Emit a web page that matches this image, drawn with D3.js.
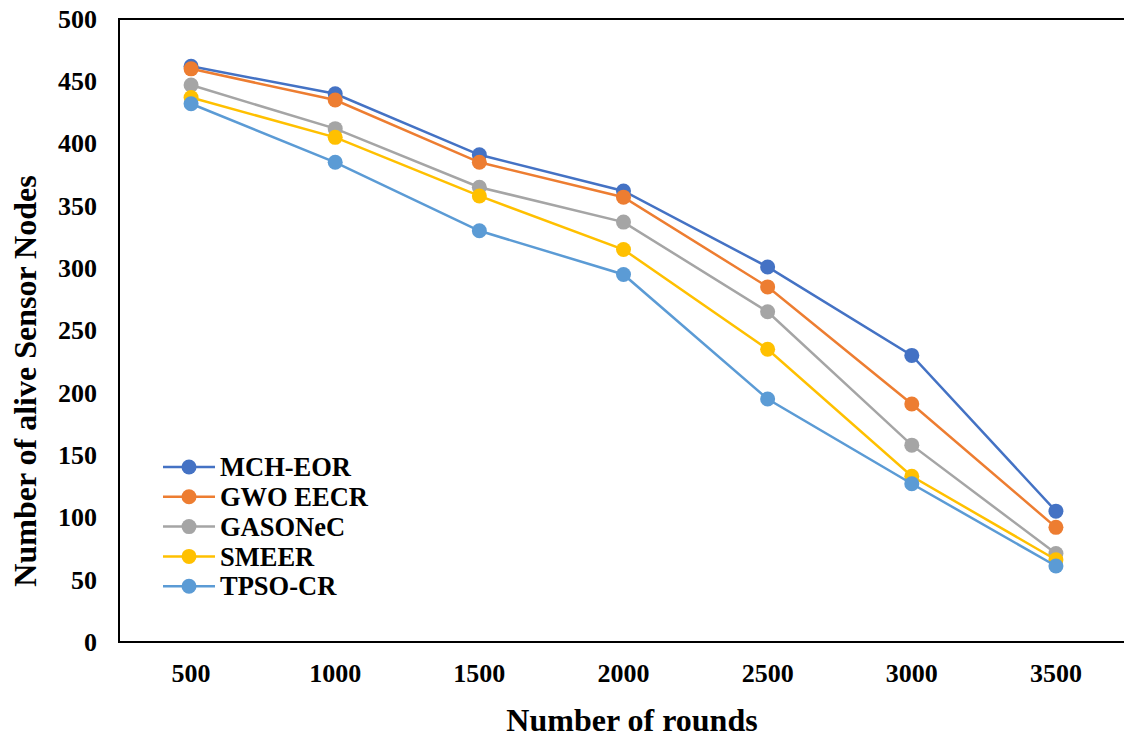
<!DOCTYPE html>
<html>
<head>
<meta charset="utf-8">
<script src="https://cdn.jsdelivr.net/npm/d3@7"></script>
<style>
  body { margin: 0; background: #fff; }
  text { font-family: "Liberation Serif", "Times New Roman", serif; font-weight: bold; fill: #000; }
</style>
</head>
<body>
<svg id="chart" width="1124" height="738"></svg>
<script>
// rounds on the x axis
const rounds = ["500", "1000", "1500", "2000", "2500", "3000", "3500"];
const yTicks = [0, 50, 100, 150, 200, 250, 300, 350, 400, 450, 500];

const seriesNames = ["MCH-EOR", "GWO EECR", "GASONeC", "SMEER", "TPSO-CR"];
const seriesColors = ["#4472C4", "#ED7D31", "#A5A5A5", "#FFC000", "#5B9BD5"];

const mchEor   = [462, 440, 391, 362, 301, 230, 105];
const gwoEecr  = [460, 435, 385, 357, 285, 191, 92];
const gasonec  = [447, 412, 365, 337, 265, 158, 71];
const smeer    = [437, 405, 358, 315, 235, 133, 66];
const tpsoCr   = [432, 385, 330, 295, 195, 127, 61];

const seriesValues = [mchEor, gwoEecr, gasonec, smeer, tpsoCr];

const margin = { left: 119, top: 19, right: -4, bottom: 96 };
const W = 1124, H = 738;

const svg = d3.select("#chart");

const x = d3.scaleBand()
  .domain(rounds)
  .range([margin.left, W - margin.right]);

const y = d3.scaleLinear()
  .domain([0, 500])
  .range([H - margin.bottom, margin.top]);

const cx = d => x(d) + x.bandwidth() / 2;

// frame
svg.append("path")
  .attr("d", `M${W + 5},${margin.top}H${margin.left}V${y(0)}H${W + 5}`)
  .attr("fill", "none")
  .attr("stroke", "#000")
  .attr("stroke-width", 2);

// y axis labels
const yAxis = d3.axisLeft(y).tickValues(yTicks).tickSize(0).tickPadding(22);
svg.append("g")
  .attr("transform", `translate(${margin.left},0)`)
  .call(yAxis)
  .call(g => g.select(".domain").remove())
  .selectAll("text")
  .style("font-size", "26px")
  .style("font-family", "Liberation Serif")
  .style("font-weight", "bold");

// x axis labels
const xAxis = d3.axisBottom(x).tickSize(0).tickPadding(22);
svg.append("g")
  .attr("transform", `translate(0,${y(0)})`)
  .call(xAxis)
  .call(g => g.select(".domain").remove())
  .selectAll("text")
  .style("font-size", "26px")
  .style("font-family", "Liberation Serif")
  .style("font-weight", "bold");

// lines + markers
const line = d3.line()
  .x((d, i) => cx(rounds[i]))
  .y(d => y(d));

seriesValues.forEach((vals, s) => {
  const g = svg.append("g");
  g.append("path")
    .datum(vals)
    .attr("d", line)
    .attr("fill", "none")
    .attr("stroke", seriesColors[s])
    .attr("stroke-width", 2.5);
  g.selectAll("circle")
    .data(vals)
    .enter()
    .append("circle")
    .attr("cx", (d, i) => cx(rounds[i]))
    .attr("cy", d => y(d))
    .attr("r", 7.5)
    .attr("fill", seriesColors[s]);
});

// legend
const legend = svg.append("g").attr("transform", "translate(163,467)");
seriesNames.forEach((name, i) => {
  const row = legend.append("g").attr("transform", `translate(0,${i * 29.8})`);
  row.append("line")
    .attr("x1", 0).attr("x2", 52)
    .attr("stroke", seriesColors[i])
    .attr("stroke-width", 2.5);
  row.append("circle")
    .attr("cx", 26).attr("r", 7.5)
    .attr("fill", seriesColors[i]);
  row.append("text")
    .attr("x", 57)
    .attr("dy", "0.35em")
    .style("font-size", "26.5px")
    .text(name);
});

// axis titles
svg.append("text")
  .attr("x", 632)
  .attr("y", 731)
  .attr("text-anchor", "middle")
  .style("font-size", "32px")
  .text("Number of rounds");

svg.append("text")
  .attr("transform", "translate(36,381)rotate(-90)")
  .attr("text-anchor", "middle")
  .style("font-size", "32px")
  .text("Number of alive Sensor Nodes");
</script>
</body>
</html>
